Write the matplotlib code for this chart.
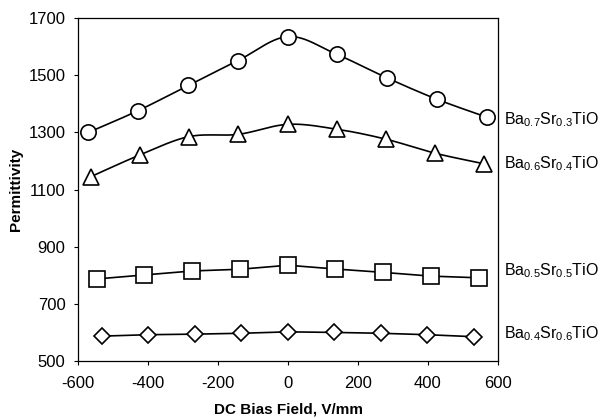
import numpy as np
import matplotlib
matplotlib.use("Agg")
import matplotlib.pyplot as plt

plt.rcParams['font.family'] = ['Liberation Sans', 'DejaVu Sans']
plt.rcParams['axes.unicode_minus'] = False
plt.rcParams['mathtext.fontset'] = 'custom'
plt.rcParams['mathtext.rm'] = 'Liberation Sans'

# data
x_07 = [-570, -428, -285, -143, 0, 139, 282, 425, 568]
y_07 = [1300, 1376, 1464, 1551, 1635, 1573, 1491, 1416, 1353]
x_06 = [-563, -423, -283, -142, 0, 139, 280, 420, 560]
y_06 = [1145, 1221, 1285, 1293, 1328, 1311, 1276, 1227, 1190]
x_05 = [-547, -411, -273, -137, 0, 134, 272, 408, 547]
y_05 = [787, 801, 815, 821, 835, 822, 810, 797, 791]
x_04 = [-532, -399, -266, -133, 0, 131, 265, 398, 531]
y_04 = [587, 592, 594, 597, 602, 600, 597, 592, 585]
labels = [r"Ba$_{\rm 0.7}$Sr$_{\rm 0.3}$TiO", r"Ba$_{\rm 0.6}$Sr$_{\rm 0.4}$TiO",
          r"Ba$_{\rm 0.5}$Sr$_{\rm 0.5}$TiO", r"Ba$_{\rm 0.4}$Sr$_{\rm 0.6}$TiO"]
label_y = [1345, 1190, 815, 595]


def smooth(x, y, n=30):
    # Excel-like smoothed line (Catmull-Rom / Bezier)
    x = np.asarray(x, float); y = np.asarray(y, float)
    px = np.concatenate([[x[0]], x, [x[-1]]])
    py = np.concatenate([[y[0]], y, [y[-1]]])
    t = np.linspace(0, 1, n)
    xs, ys = [], []
    for i in range(1, len(px) - 2):
        p0 = np.array([px[i], py[i]]); p3 = np.array([px[i+1], py[i+1]])
        p1 = p0 + (np.array([px[i+1], py[i+1]]) - np.array([px[i-1], py[i-1]])) / 6
        p2 = p3 - (np.array([px[i+2], py[i+2]]) - np.array([px[i], py[i]])) / 6
        b = (np.outer((1-t)**3, p0) + np.outer(3*(1-t)**2*t, p1)
             + np.outer(3*(1-t)*t**2, p2) + np.outer(t**3, p3))
        xs.extend(b[:, 0]); ys.extend(b[:, 1])
    return xs, ys


fig = plt.figure(figsize=(6.05, 4.18), dpi=100)
ax = fig.add_axes([78/605, 1-361/418, 420/605, 343/418])

mk = dict(color="black", markerfacecolor="white", markeredgecolor="black",
          markeredgewidth=1.2, linestyle="none", zorder=3)
sx, sy = smooth(x_07, y_07)
ax.plot(sx, sy, color="black", lw=1.2)
ax.plot(x_07, y_07, marker="o", markersize=11, **mk)
sx, sy = smooth(x_06, y_06)
ax.plot(sx, sy, color="black", lw=1.2)
ax.plot(x_06, y_06, marker="^", markersize=11, **mk)
ax.plot(x_05, y_05, color="black", lw=1.2)
ax.plot(x_05, y_05, marker="s", markersize=11, **mk)
ax.plot(x_04, y_04, color="black", lw=1.2)
ax.plot(x_04, y_04, marker="D", markersize=8, **mk)

for lab, ly in zip(labels, label_y):
    ax.text(618, ly, lab, fontsize=11.5, va="center", ha="left")

ax.set_xlim(-600, 600)
ax.set_ylim(500, 1700)
ax.set_xticks(np.arange(-600, 601, 200))
ax.set_yticks(np.arange(500, 1701, 200))
ax.tick_params(labelsize=12, length=3, width=0.8, direction="out")
ax.tick_params(axis="x", pad=8)
ax.tick_params(axis="y", pad=6)
for s in ax.spines.values():
    s.set_linewidth(0.9)
ax.set_xlabel("DC Bias Field, V/mm", fontsize=11, fontweight="bold", va="center")
ax.xaxis.set_label_coords(0.5, -0.14)
ax.set_ylabel("Permittivity", fontsize=11, fontweight="bold", va="center")
ax.yaxis.set_label_coords(-0.148, 0.5)

fig.savefig("out.png", dpi=100)
